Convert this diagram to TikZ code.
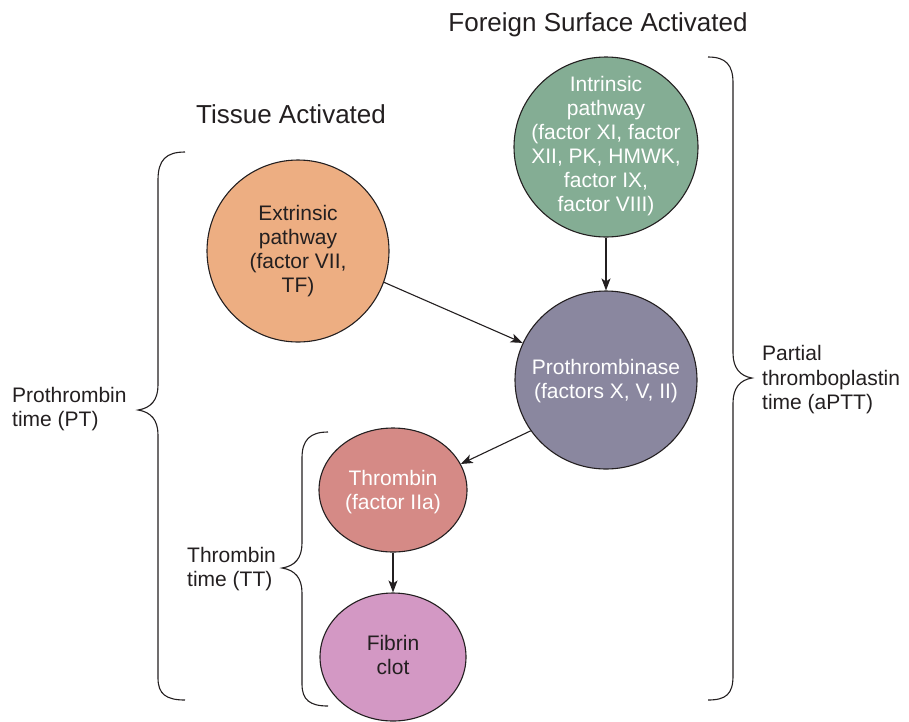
\documentclass[tikz,border=0pt]{standalone}
\usepackage{fontspec}
\setmainfont{Liberation Sans}
\usetikzlibrary{shapes.geometric,arrows.meta}
\definecolor{ink}{HTML}{231F20}
\definecolor{extc}{HTML}{EDAE82}
\definecolor{intc}{HTML}{84AD94}
\definecolor{proc}{HTML}{8A879F}
\definecolor{thrc}{HTML}{D58A86}
\definecolor{fibc}{HTML}{D398C4}
\begin{document}
\begin{tikzpicture}[x=1pt,y=-1pt,
  blob/.style={ellipse,draw=ink,line width=1.1pt,inner sep=0pt},
  btext/.style={align=center,inner sep=0pt,font=\fontsize{21}{24}\selectfont},
  arr/.style={draw=ink,line width=1.1pt,-{Stealth[length=12pt,width=9pt,inset=3pt]}},
  bracepath/.style={draw=ink,line width=1.1pt},
  lab/.style={align=left,anchor=west,inner sep=0pt,text=ink,font=\fontsize{21}{24.5}\selectfont},
  ttl/.style={inner sep=0pt,text=ink,font=\fontsize{26}{30}\selectfont}]
\useasboundingbox (0,0) rectangle (909,721);

% titles
\node[ttl] (t1) at (598,25) {Foreign Surface Activated};
\node[ttl] (t2) at (291,114) {Tissue Activated};

% ellipses
\node[blob,fill=extc,minimum width=182pt,minimum height=182pt] (ext) at (298,251) {};
\node[btext,text=ink] (extT) at (298,251) {Extrinsic\\pathway\\(factor VII,\\TF)};

\node[blob,fill=intc,minimum width=184pt,minimum height=180pt] (int) at (606,147) {};
\node[btext,text=white] (intT) at (606,146) {Intrinsic\\pathway\\(factor XI, factor\\XII, PK, HMWK,\\factor IX,\\factor VIII)};

\node[blob,fill=proc,minimum width=182pt,minimum height=178pt] (pro) at (606,380) {};
\node[btext,text=white] (proT) at (606,381) {Prothrombinase\\(factors X, V, II)};

\node[blob,fill=thrc,minimum width=148pt,minimum height=124pt] (thr) at (393,490) {};
\node[btext,text=white] (thrT) at (393,492) {Thrombin\\(factor IIa)};

\node[blob,fill=fibc,minimum width=146pt,minimum height=128pt] (fib) at (393,657) {};
\node[btext,text=ink] (fibT) at (393,655) {Fibrin\\clot};

% connectors
\draw[arr] (ext.-20) -- (pro.156);
\draw[arr] (int.south) -- (pro.north);
\draw[arr] (pro.214) -- (thr.21);
\draw[arr] (thr.south) -- (fib.north);

% braces
\draw[bracepath] (185,152) .. controls (166,152) and (158,160) .. (158,180) -- (158,385)
  .. controls (158,400) and (151,408) .. (138,410)
  .. controls (151,412) and (158,420) .. (158,435) -- (158,678)
  .. controls (158,694) and (166,700) .. (185,700);
\draw[bracepath] (328,432) .. controls (310,432) and (302,440) .. (302,458) -- (302,543)
  .. controls (302,558) and (295,566) .. (282,568)
  .. controls (295,570) and (302,578) .. (302,593) -- (302,684)
  .. controls (302,700) and (310,706) .. (328,706);
\draw[bracepath] (708,57) .. controls (726,57) and (733,65) .. (733,83) -- (733,353)
  .. controls (733,368) and (740,376) .. (752,378)
  .. controls (740,380) and (733,388) .. (733,403) -- (733,676)
  .. controls (733,694) and (726,700) .. (708,700);

% brace labels
\node[lab] (pt) at (12,409) {Prothrombin\\time (PT)};
\node[lab] (tt) at (187,569) {Thrombin\\time (TT)};
\node[lab] (aptt) at (762,380) {Partial\\thromboplastin\\time (aPTT)};
\end{tikzpicture}
\end{document}
